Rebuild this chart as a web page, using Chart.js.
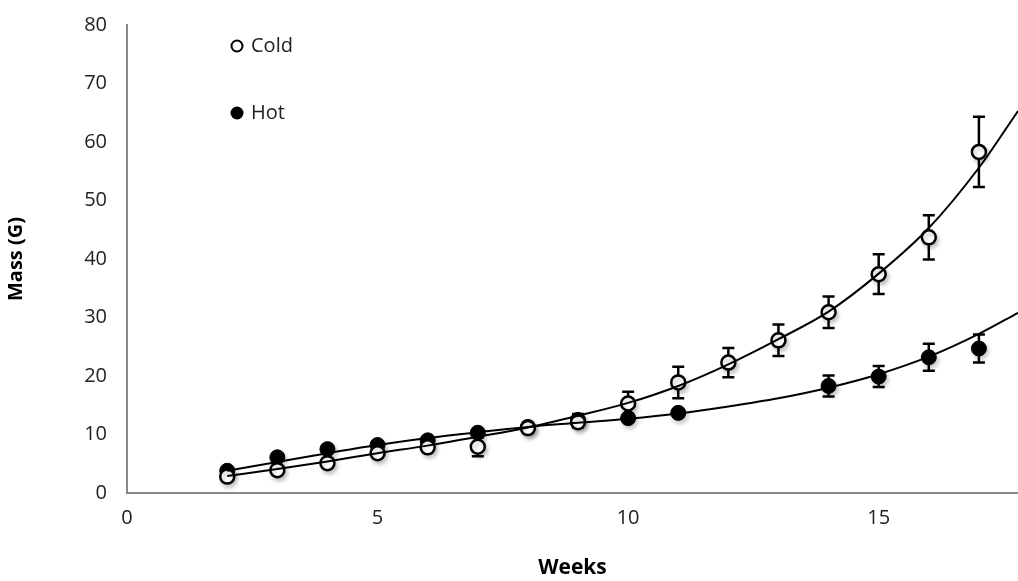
<!DOCTYPE html>
<html lang="en">
<head>
    <meta charset="UTF-8">
    <title>Mass vs Weeks</title>
    <script src="https://cdn.jsdelivr.net/npm/chart.js"></script>
    <style>
        body { margin: 0; padding: 0; background: #fff; }
        #wrap { position: relative; width: 1018px; height: 581px; }
    </style>
</head>
<body>
    <div id="wrap"><canvas id="massChart" width="1018" height="581"></canvas></div>
    <script>
        // weeks and measured mass (G)
        const weeksCold = [2, 3, 4, 5, 6, 7, 8, 9, 10, 11, 12, 13, 14, 15, 16, 17];
        const coldMass = [2.8, 3.9, 5.1, 6.8, 7.8, 7.9, 11.1, 12.1, 15.3, 18.9, 22.3, 26.1, 30.9, 37.4, 43.7, 58.3];
        const coldErr = [0.5, 0.5, 0.5, 0.6, 0.6, 1.6, 0.8, 0.9, 2.0, 2.7, 2.5, 2.7, 2.7, 3.4, 3.8, 6.0];

        const weeksHot = [2, 3, 4, 5, 6, 7, 8, 9, 10, 11, 14, 15, 16, 17];
        const hotMass = [3.8, 6.1, 7.5, 8.2, 9.0, 10.3, 11.3, 12.5, 12.8, 13.7, 18.3, 19.9, 23.2, 24.7];
        const hotErr = [0.5, 0.5, 0.5, 0.5, 0.5, 0.5, 0.7, 1.0, 0.6, 0.6, 1.8, 1.8, 2.3, 2.4];

        // trendlines
        const trendWeeks = [2, 3, 4, 5, 6, 7, 8, 9, 10, 11, 12, 13, 14, 15, 16, 17, 17.78];
        const coldTrend = [2.9, 4.1, 5.4, 6.8, 8.1, 9.6, 11.2, 13.2, 15.4, 18.3, 22.0, 26.3, 31.0, 37.5, 45.3, 55.6, 65.3];
        const hotTrend = [3.8, 5.3, 6.8, 8.2, 9.4, 10.4, 11.3, 12.0, 12.7, 13.6, 14.8, 16.2, 18.0, 20.3, 23.3, 27.2, 30.8];

        const xTicks = [0, 5, 10, 15];

        const pts = (xs, ys) => xs.map((x, i) => ({ x: x, y: ys[i] }));

        const errorBars = {
            id: 'errorBars',
            beforeDatasetsDraw(chart) {
                const ctx = chart.ctx;
                const xs = chart.scales.x, ys = chart.scales.y;
                const sets = [[weeksCold, coldMass, coldErr], [weeksHot, hotMass, hotErr]];
                ctx.save();
                ctx.strokeStyle = '#000';
                ctx.lineWidth = 2.5;
                sets.forEach(([wx, m, e]) => {
                    wx.forEach((w, i) => {
                        const px = xs.getPixelForValue(w);
                        const top = ys.getPixelForValue(m[i] + e[i]);
                        const bot = ys.getPixelForValue(m[i] - e[i]);
                        ctx.beginPath();
                        ctx.moveTo(px, top); ctx.lineTo(px, bot);
                        ctx.moveTo(px - 6, top); ctx.lineTo(px + 6, top);
                        ctx.moveTo(px - 6, bot); ctx.lineTo(px + 6, bot);
                        ctx.stroke();
                    });
                });
                ctx.restore();
            }
        };

        // faint grey shadow under the markers
        const markerShadow = {
            id: 'markerShadow',
            beforeDatasetDraw(chart, args) {
                if (args.meta.type === 'line') return;
                const ctx = chart.ctx;
                ctx.save();
                ctx.shadowColor = 'rgba(0,0,0,0.22)';
                ctx.shadowBlur = 4;
                ctx.shadowOffsetX = 2;
                ctx.shadowOffsetY = 3;
            },
            afterDatasetDraw(chart, args) {
                if (args.meta.type === 'line') return;
                chart.ctx.restore();
            }
        };

        const legendBox = {
            id: 'legendBox',
            afterDraw(chart) {
                const ctx = chart.ctx;
                ctx.save();
                ctx.font = '20px "Open Sans", sans-serif';
                ctx.textBaseline = 'middle';
                ctx.lineWidth = 2;
                ctx.strokeStyle = '#000';
                ctx.beginPath(); ctx.arc(237, 46, 5.5, 0, Math.PI * 2);
                ctx.fillStyle = '#fff'; ctx.fill(); ctx.stroke();
                ctx.beginPath(); ctx.arc(237, 113, 6.5, 0, Math.PI * 2);
                ctx.fillStyle = '#000'; ctx.fill();
                ctx.fillStyle = '#222';
                ctx.fillText('Cold', 251, 46);
                ctx.fillText('Hot', 251, 113);
                ctx.restore();
            }
        };

        new Chart(document.getElementById('massChart'), {
            type: 'scatter',
            data: {
                datasets: [
                    { label: 'Cold trend', type: 'line', data: pts(trendWeeks, coldTrend), borderColor: '#000', borderWidth: 2, pointRadius: 0, fill: false, cubicInterpolationMode: 'monotone' },
                    { label: 'Hot trend', type: 'line', data: pts(trendWeeks, hotTrend), borderColor: '#000', borderWidth: 2, pointRadius: 0, fill: false, cubicInterpolationMode: 'monotone' },
                    { label: 'Cold', data: pts(weeksCold, coldMass), pointRadius: 7, pointBorderWidth: 2.5, pointBackgroundColor: '#fff', pointBorderColor: '#000' },
                    { label: 'Hot', data: pts(weeksHot, hotMass), pointRadius: 7.5, pointBorderWidth: 1, pointBackgroundColor: '#000', pointBorderColor: '#000' }
                ]
            },
            options: {
                responsive: false,
                animation: false,
                layout: { autoPadding: false, padding: { top: 24, right: 0, left: 0, bottom: 0 } },
                plugins: { legend: { display: false }, tooltip: { enabled: false } },
                scales: {
                    x: {
                        type: 'linear', min: 0, max: 17.78,
                        afterBuildTicks: s => { s.ticks = xTicks.map(v => ({ value: v })); },
                        afterFit: s => { s.height = 88; },
                        grid: { display: false, drawTicks: true, tickLength: 7, tickColor: '#888' },
                        border: { color: '#888', width: 2 },
                        ticks: { color: '#222', font: { family: 'Open Sans', size: 20 }, padding: 6 },
                        title: { display: true, text: 'Weeks', color: '#000', font: { family: 'Open Sans', size: 21, weight: 'bold' }, padding: { top: 16, bottom: 0 } }
                    },
                    y: {
                        min: 0, max: 80,
                        ticks: { stepSize: 10, color: '#222', font: { family: 'Open Sans', size: 20 }, padding: 13 },
                        afterFit: s => { s.width = 127; },
                        grid: { display: false, drawTicks: true, tickLength: 7, tickColor: '#888' },
                        border: { color: '#888', width: 2 },
                        title: { display: true, text: 'Mass (G)', color: '#000', font: { family: 'Open Sans', size: 20, weight: 'bold' }, padding: { bottom: 6 } }
                    }
                }
            },
            plugins: [errorBars, markerShadow, legendBox]
        });
    </script>
</body>
</html>
